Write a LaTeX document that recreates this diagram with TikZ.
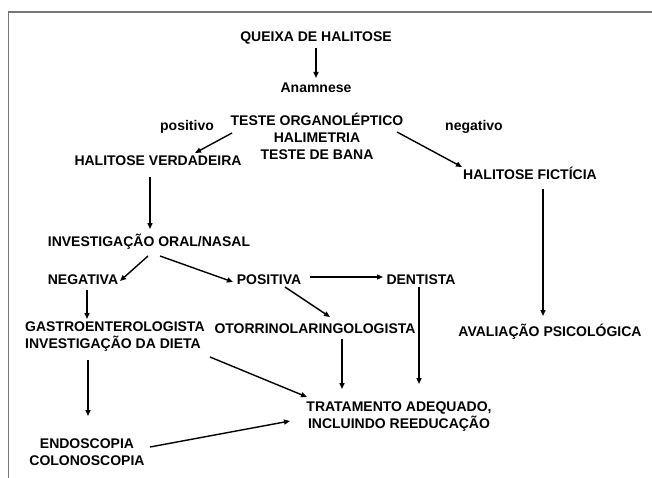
\documentclass[tikz,border=0pt]{standalone}
\usepackage{fontspec}
\setmainfont{Liberation Sans}
\usetikzlibrary{arrows.meta,calc}
\definecolor{framegray}{RGB}{118,118,118}
\begin{document}
\begin{tikzpicture}[x=1pt,y=-1pt,
  lbl/.style={inner sep=0pt,font=\bfseries\fontsize{14}{17}\selectfont},
  one/.style={lbl,text height=10pt,text depth=0pt},
  arr/.style={line width=1.4pt,-{Triangle[length=6pt,width=5pt]}}]
\useasboundingbox (0,0) rectangle (652,478);
\fill[white] (0,0) rectangle (652,478);
\draw[framegray,line width=1.6pt] (8.5,478) -- (8.5,12) -- (652,12);

\node[one] (q) at (316,37) {QUEIXA DE HALITOSE};
\node[lbl] (an) at (316,88) {Anamnese};
\node[lbl,align=center] (t) at (317,136) {TESTE ORGANOLÉPTICO\\HALIMETRIA\\TESTE DE BANA};
\node[lbl] (pos) at (187,127) {positivo};
\node[lbl] (neg) at (474,127) {negativo};
\node[one] (hv) at (158,161) {HALITOSE VERDADEIRA};
\node[one] (hf) at (530,175) {HALITOSE FICTÍCIA};
\node[one] (inv) at (149,241) {INVESTIGAÇÃO ORAL/NASAL};
\node[one] (ng) at (83,279) {NEGATIVA};
\node[one] (ps) at (269,279) {POSITIVA};
\node[one] (de) at (421,279) {DENTISTA};
\node[lbl,align=left,anchor=west] (ga) at (25,337) {GASTROENTEROLOGISTA\\INVESTIGAÇÃO DA DIETA};
\node[one] (ot) at (315,328) {OTORRINOLARINGOLOGISTA};
\node[one] (av) at (550,331) {AVALIAÇÃO PSICOLÓGICA};
\node[lbl,align=center] (tr) at (399,417) {TRATAMENTO ADEQUADO,\\INCLUINDO REEDUCAÇÃO};
\node[lbl,align=center] (en) at (87,452) {ENDOSCOPIA\\COLONOSCOPIA};

\draw[arr] ($(q)+(0,11)$) -- ($(an)+(0,-10)$);
\draw[arr] ($(t)+(-85,-3)$) -- ($(hv)+(37,-8)$);
\draw[arr] ($(t)+(80,-4)$) -- ($(hf)+(-68,-8)$);
\draw[arr] ($(hv)+(-8,16)$) -- ($(inv)+(1,-12)$);
\draw[arr] ($(inv)+(-1,15)$) -- ($(ng)+(37,2)$);
\draw[arr] ($(inv)+(11,15)$) -- ($(ps)+(-36,3)$);
\draw[arr] ($(ps)+(41,-2)$) -- ($(de)+(-38,-2)$);
\draw[arr] ($(ng)+(4,11)$) -- ($(ga.west)+(62,-18)$);
\draw[arr] ($(ps)+(16,8)$) -- ($(ot)+(15,-11)$);
\draw[arr] ($(de)+(-2,8)$) -- ($(tr)+(20,-33)$);
\draw[arr] ($(ot)+(27,11)$) -- ($(tr)+(-57,-28)$);
\draw[arr] ($(hf)+(13,14)$) -- ($(av)+(-7,-15)$);
\draw[arr] ($(ga.west)+(63,23)$) -- ($(en)+(1,-36)$);
\draw[arr] ($(ga.west)+(185,20)$) -- ($(tr)+(-92,-20)$);
\draw[arr] ($(en)+(63,-5)$) -- ($(tr)+(-109,4)$);
\end{tikzpicture}
\end{document}
